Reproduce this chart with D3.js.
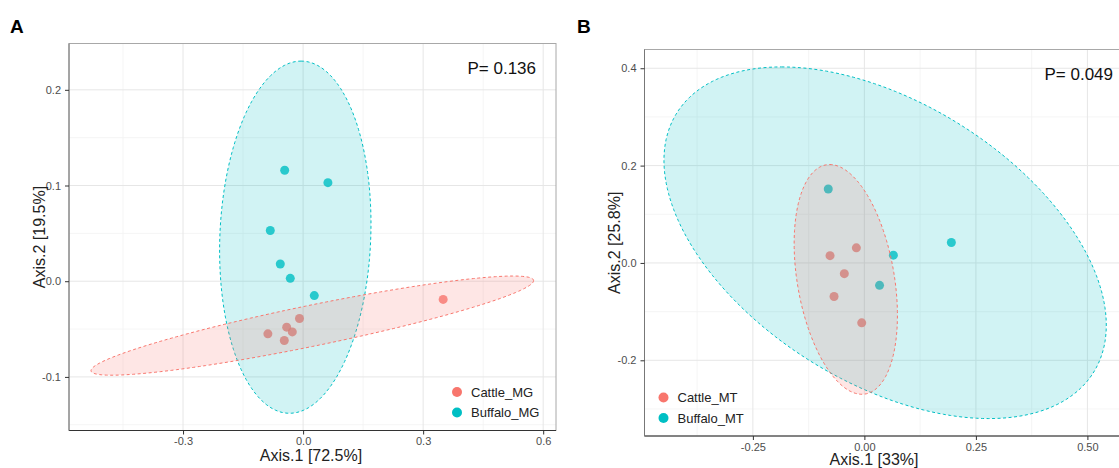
<!doctype html>
<html>
<head>
<meta charset="utf-8">
<script src="https://cdnjs.cloudflare.com/ajax/libs/d3/7.8.5/d3.min.js"></script>
<style>
  body { margin: 0; background: #fff; }
  svg { display: block; font-family: "Liberation Sans", Arial, Helvetica, sans-serif; }
  .tick text { fill: #4d4d4d; font-size: 11px; }
</style>
</head>
<body>
<svg id="chart" width="1119" height="468"></svg>
<script>
// ---- data ----
// panel A (MG)
var groupsA = ["Cattle_MG", "Buffalo_MG"];
var cattleMG = [[0.350, -0.019], [-0.009, -0.039], [-0.041, -0.048], [-0.027, -0.053], [-0.088, -0.055], [-0.047, -0.062]];
var buffaloMG = [[-0.046, 0.116], [0.062, 0.103], [-0.082, 0.053], [-0.057, 0.018], [-0.032, 0.003], [0.028, -0.015]];
// ellipse: centre x, centre y, then two conjugate half-diameters (data units)
var ellCattleMG = [0.023, -0.0464, 0.553, 0.047, 0, 0.0218];
var ellBuffaloMG = [-0.0195, 0.046, 0.0145, 0.184, 0.1886, 0];
var xTicksA = [-0.3, 0.0, 0.3, 0.6], yTicksA = [-0.1, 0.0, 0.1, 0.2];
var xMinorA = [-0.45, -0.15, 0.15, 0.45], yMinorA = [-0.15, -0.05, 0.05, 0.15];
var xDomainA = [-0.585, 0.632], yDomainA = [-0.156, 0.2484];
var pValueA = "P= 0.136";

// panel B (MT)
var groupsB = ["Cattle_MT", "Buffalo_MT"];
var cattleMT = [[-0.077, 0.015], [-0.018, 0.031], [-0.045, -0.022], [-0.068, -0.069], [-0.006, -0.123]];
var buffaloMT = [[-0.081, 0.152], [0.195, 0.042], [0.065, 0.016], [0.034, -0.046]];
var ellCattleMT = [-0.0417, -0.0338, -0.0361, 0.236, 0.110, 0];
var ellBuffaloMT = [0.0465, 0.0415, -0.2325, 0.3612, 0.438, 0];
var xTicksB = [-0.25, 0.0, 0.25, 0.50], yTicksB = [-0.2, 0.0, 0.2, 0.4];
var xMinorB = [-0.375, -0.125, 0.125, 0.375], yMinorB = [-0.3, -0.1, 0.1, 0.3];
var xDomainB = [-0.493, 0.60], yDomainB = [-0.3555, 0.4385];
var pValueB = "P= 0.049";

var colors = ["#F8766D", "#00BFC4"];

var svg = d3.select("#chart");

function drawPanel(o) {
    var x = d3.scaleLinear().domain(o.xDomain).range([o.left, o.right]);
    var y = d3.scaleLinear().domain(o.yDomain).range([o.bottom, o.top]);
    var g = svg.append("g");

    var clipId = "clip" + o.id;
    g.append("clipPath").attr("id", clipId)
        .append("rect")
        .attr("x", o.left).attr("y", o.top)
        .attr("width", o.right - o.left).attr("height", o.bottom - o.top);

    //grid lines
    var grid = g.append("g");
    grid.selectAll(".vmin").data(o.xMinor).enter().append("line")
        .attr("x1", d => x(d)).attr("x2", d => x(d))
        .attr("y1", o.top).attr("y2", o.bottom)
        .attr("stroke", "#f2f2f2").attr("stroke-width", 0.8);
    grid.selectAll(".hmin").data(o.yMinor).enter().append("line")
        .attr("y1", d => y(d)).attr("y2", d => y(d))
        .attr("x1", o.left).attr("x2", o.right)
        .attr("stroke", "#f2f2f2").attr("stroke-width", 0.8);
    grid.selectAll(".vmaj").data(o.xTicks).enter().append("line")
        .attr("x1", d => x(d)).attr("x2", d => x(d))
        .attr("y1", o.top).attr("y2", o.bottom)
        .attr("stroke", "#e6e6e6").attr("stroke-width", 1);
    grid.selectAll(".hmaj").data(o.yTicks).enter().append("line")
        .attr("y1", d => y(d)).attr("y2", d => y(d))
        .attr("x1", o.left).attr("x2", o.right)
        .attr("stroke", "#e6e6e6").attr("stroke-width", 1);

    var plot = g.append("g").attr("clip-path", "url(#" + clipId + ")");

    // points go under the ellipses
    o.series.forEach(function(s, i) {
        plot.selectAll(null).data(s).enter().append("circle")
            .attr("cx", d => x(d[0])).attr("cy", d => y(d[1]))
            .attr("r", 4.5)
            .attr("fill", colors[i])
            .attr("fill-opacity", 0.8);
    });

    // ellipses: buffalo first, cattle on top
    var line = d3.line().x(d => x(d[0])).y(d => y(d[1]));
    [1, 0].forEach(function(i) {
        var e = o.ellipses[i];
        var pts = d3.range(0, 201).map(function(k) {
            var t = k / 200 * 2 * Math.PI;
            return [e[0] + e[2] * Math.cos(t) + e[4] * Math.sin(t),
                    e[1] + e[3] * Math.cos(t) + e[5] * Math.sin(t)];
        });
        plot.append("path")
            .attr("d", line(pts) + "Z")
            .attr("fill", colors[i])
            .attr("fill-opacity", 0.18)
            .attr("stroke", colors[i])
            .attr("stroke-width", 1)
            .attr("stroke-dasharray", "3,2.5");
    });

    // frame
    g.append("rect")
        .attr("x", o.left).attr("y", o.top)
        .attr("width", o.right - o.left).attr("height", o.bottom - o.top)
        .attr("fill", "none").attr("stroke", "#a8a8a8").attr("stroke-width", 1);

    //x axis
    var xa = g.append("g")
        .attr("transform", "translate(0," + o.bottom + ")")
        .call(d3.axisBottom(x).tickValues(o.xTicks).tickSize(4).tickPadding(3)
            .tickFormat(d3.format(o.xFmt)));
    xa.select(".domain").attr("stroke", "#333").attr("d", "M" + o.left + ",0H" + o.right);
    xa.selectAll(".tick line").attr("stroke", "#333");
    xa.selectAll(".tick text").text(d => d3.format(o.xFmt)(d).replace("−", "-"));

    //y axis
    var ya = g.append("g")
        .attr("transform", "translate(" + o.left + ",0)")
        .call(d3.axisLeft(y).tickValues(o.yTicks).tickSize(4).tickPadding(4)
            .tickFormat(d3.format(".1f")));
    ya.select(".domain").attr("stroke", "#777").attr("d", "M0," + o.top + "V" + o.bottom);
    ya.selectAll(".tick line").attr("stroke", "#333");
    ya.selectAll(".tick text").text(d => d3.format(".1f")(d).replace("−", "-"));

    // titles
    g.append("text")
        .attr("x", o.xTitleX).attr("y", o.xTitleY)
        .attr("text-anchor", "middle")
        .attr("font-size", "16px").attr("fill", "#222")
        .text(o.xTitle);
    g.append("text")
        .attr("transform", "translate(" + o.yTitleX + "," + ((o.top + o.bottom) / 2) + ") rotate(-90)")
        .attr("text-anchor", "middle")
        .attr("font-size", "16px").attr("fill", "#222")
        .text(o.yTitle);

    g.append("text")
        .attr("x", o.pX).attr("y", o.pY)
        .attr("text-anchor", "end")
        .attr("font-size", "17px").attr("fill", "#111")
        .text(o.pText);

    g.append("text")
        .attr("x", o.letterX).attr("y", 33)
        .attr("font-size", "19px").attr("font-weight", "bold").attr("fill", "#000")
        .text(o.letter);

    // legend
    var lg = g.append("g");
    o.groups.forEach(function(name, i) {
        var ly = o.legY + i * 20.5;
        lg.append("circle").attr("cx", o.legX).attr("cy", ly).attr("r", 5).attr("fill", colors[i]);
        lg.append("text").attr("x", o.legX + 14).attr("y", ly + 4.5)
            .attr("font-size", "13px").attr("fill", "#222").text(name);
    });
}

drawPanel({
    id: "A", letter: "A", letterX: 10,
    left: 69, right: 556, top: 43.5, bottom: 430.5,
    xDomain: xDomainA, yDomain: yDomainA,
    xTicks: xTicksA, yTicks: yTicksA, xMinor: xMinorA, yMinor: yMinorA, xFmt: ".1f",
    series: [cattleMG, buffaloMG], ellipses: [ellCattleMG, ellBuffaloMG],
    groups: groupsA, legX: 457, legY: 392,
    xTitle: "Axis.1 [72.5%]", xTitleX: 311, xTitleY: 461,
    yTitle: "Axis.2 [19.5%]", yTitleX: 45,
    pText: pValueA, pX: 536, pY: 74
});

drawPanel({
    id: "B", letter: "B", letterX: 577,
    left: 644.5, right: 1132, top: 49.5, bottom: 436,
    xDomain: xDomainB, yDomain: yDomainB,
    xTicks: xTicksB, yTicks: yTicksB, xMinor: xMinorB, yMinor: yMinorB, xFmt: ".2f",
    series: [cattleMT, buffaloMT], ellipses: [ellCattleMT, ellBuffaloMT],
    groups: groupsB, legX: 663.5, legY: 397.5,
    xTitle: "Axis.1 [33%]", xTitleX: 874, xTitleY: 465,
    yTitle: "Axis.2 [25.8%]", yTitleX: 620,
    pText: pValueB, pX: 1113, pY: 79.5
});
</script>
</body>
</html>
